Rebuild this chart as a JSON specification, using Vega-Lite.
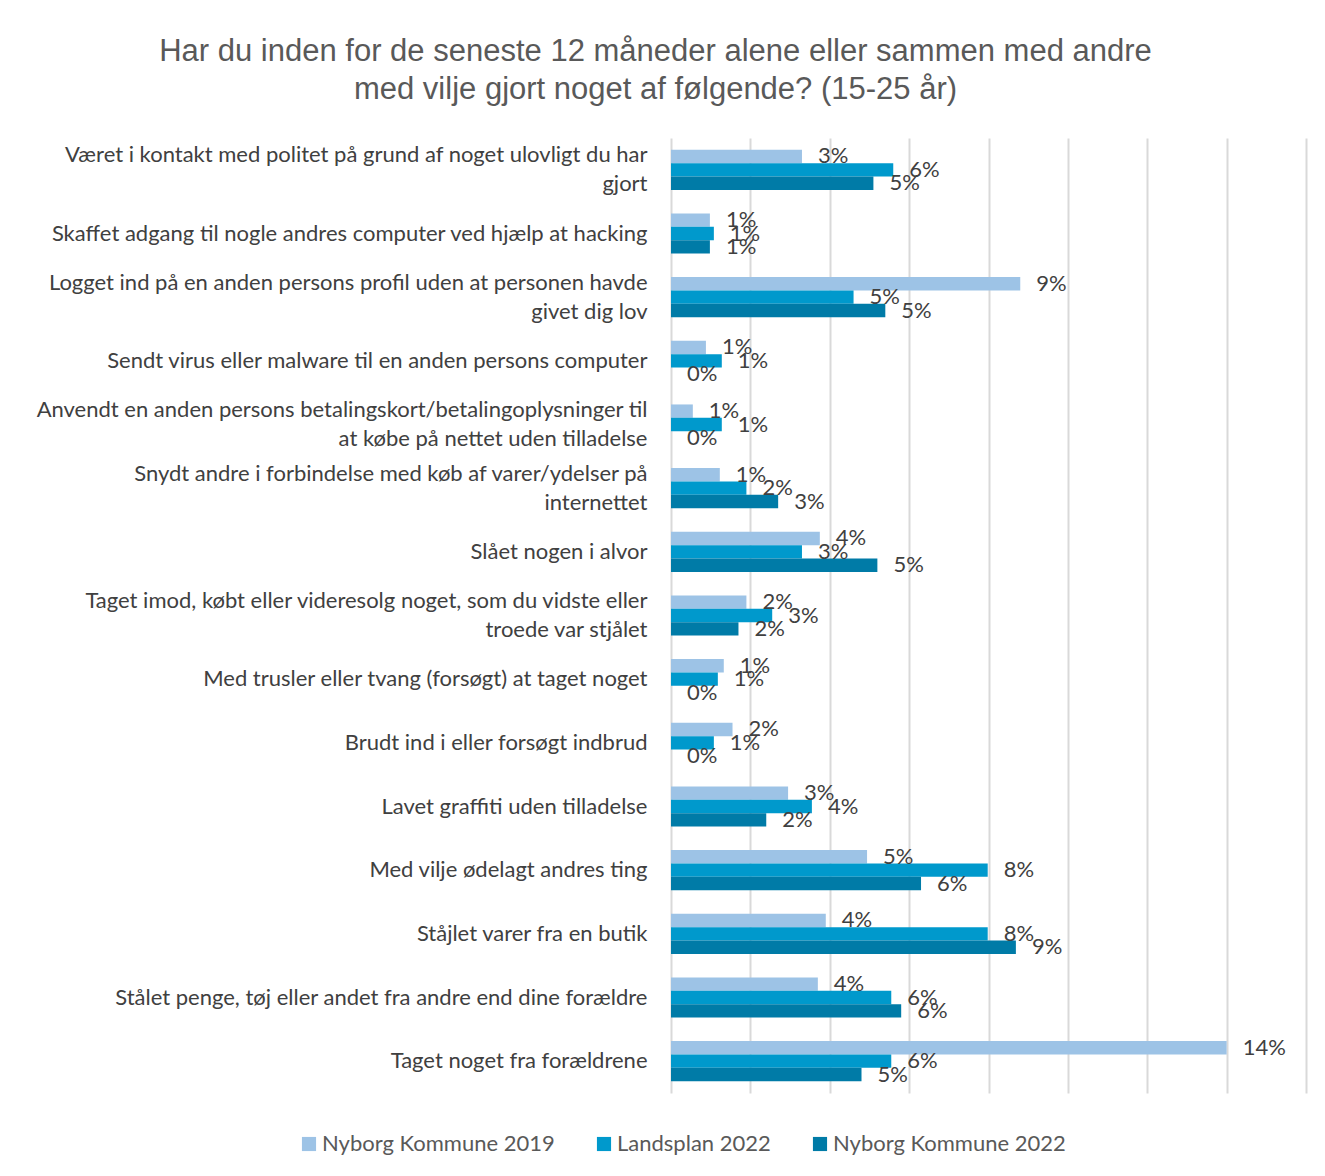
{
  "$schema": "https://vega.github.io/schema/vega-lite/v6.json",
  "width": 635,
  "height": 955,
  "padding": {"left": 5, "top": 36, "right": 19, "bottom": 10},
  "background": "white",
  "title": {
    "text": ["Har du inden for de seneste 12 måneder alene eller sammen med andre", "med vilje gjort noget af følgende? (15-25 år)"],
    "font": "Liberation Sans",
    "fontSize": 31,
    "fontWeight": "normal",
    "color": "#595959",
    "lineHeight": 38,
    "anchor": "middle",
    "frame": "bounds",
    "offset": 32
  },
  "config": {
    "view": {"stroke": null},
    "font": "Lato"
  },
  "data": {
    "values": [
      {"kategori": "Været i kontakt med politet på grund af noget ulovligt du har|gjort", "serie": "Nyborg Kommune 2019", "andel": 0.033},
      {"kategori": "Været i kontakt med politet på grund af noget ulovligt du har|gjort", "serie": "Landsplan 2022", "andel": 0.056},
      {"kategori": "Været i kontakt med politet på grund af noget ulovligt du har|gjort", "serie": "Nyborg Kommune 2022", "andel": 0.051},
      {"kategori": "Skaffet adgang til nogle andres computer ved hjælp at hacking", "serie": "Nyborg Kommune 2019", "andel": 0.0098},
      {"kategori": "Skaffet adgang til nogle andres computer ved hjælp at hacking", "serie": "Landsplan 2022", "andel": 0.0108},
      {"kategori": "Skaffet adgang til nogle andres computer ved hjælp at hacking", "serie": "Nyborg Kommune 2022", "andel": 0.0098},
      {"kategori": "Logget ind på en anden persons profil uden at personen havde|givet dig lov", "serie": "Nyborg Kommune 2019", "andel": 0.088},
      {"kategori": "Logget ind på en anden persons profil uden at personen havde|givet dig lov", "serie": "Landsplan 2022", "andel": 0.046},
      {"kategori": "Logget ind på en anden persons profil uden at personen havde|givet dig lov", "serie": "Nyborg Kommune 2022", "andel": 0.054},
      {"kategori": "Sendt virus eller malware til en anden persons computer", "serie": "Nyborg Kommune 2019", "andel": 0.0088},
      {"kategori": "Sendt virus eller malware til en anden persons computer", "serie": "Landsplan 2022", "andel": 0.0128},
      {"kategori": "Sendt virus eller malware til en anden persons computer", "serie": "Nyborg Kommune 2022", "andel": 0},
      {"kategori": "Anvendt en anden persons betalingskort/betalingoplysninger til|at købe på nettet uden tilladelse", "serie": "Nyborg Kommune 2019", "andel": 0.0055},
      {"kategori": "Anvendt en anden persons betalingskort/betalingoplysninger til|at købe på nettet uden tilladelse", "serie": "Landsplan 2022", "andel": 0.0128},
      {"kategori": "Anvendt en anden persons betalingskort/betalingoplysninger til|at købe på nettet uden tilladelse", "serie": "Nyborg Kommune 2022", "andel": 0},
      {"kategori": "Snydt andre i forbindelse med køb af varer/ydelser på|internettet", "serie": "Nyborg Kommune 2019", "andel": 0.0123},
      {"kategori": "Snydt andre i forbindelse med køb af varer/ydelser på|internettet", "serie": "Landsplan 2022", "andel": 0.019},
      {"kategori": "Snydt andre i forbindelse med køb af varer/ydelser på|internettet", "serie": "Nyborg Kommune 2022", "andel": 0.027},
      {"kategori": "Slået nogen i alvor", "serie": "Nyborg Kommune 2019", "andel": 0.0375},
      {"kategori": "Slået nogen i alvor", "serie": "Landsplan 2022", "andel": 0.033},
      {"kategori": "Slået nogen i alvor", "serie": "Nyborg Kommune 2022", "andel": 0.052},
      {"kategori": "Taget imod, købt eller videresolg noget, som du vidste eller|troede var stjålet", "serie": "Nyborg Kommune 2019", "andel": 0.019},
      {"kategori": "Taget imod, købt eller videresolg noget, som du vidste eller|troede var stjålet", "serie": "Landsplan 2022", "andel": 0.0255},
      {"kategori": "Taget imod, købt eller videresolg noget, som du vidste eller|troede var stjålet", "serie": "Nyborg Kommune 2022", "andel": 0.017},
      {"kategori": "Med trusler eller tvang (forsøgt) at taget noget", "serie": "Nyborg Kommune 2019", "andel": 0.0133},
      {"kategori": "Med trusler eller tvang (forsøgt) at taget noget", "serie": "Landsplan 2022", "andel": 0.0118},
      {"kategori": "Med trusler eller tvang (forsøgt) at taget noget", "serie": "Nyborg Kommune 2022", "andel": 0},
      {"kategori": "Brudt ind i eller forsøgt indbrud", "serie": "Nyborg Kommune 2019", "andel": 0.0155},
      {"kategori": "Brudt ind i eller forsøgt indbrud", "serie": "Landsplan 2022", "andel": 0.0108},
      {"kategori": "Brudt ind i eller forsøgt indbrud", "serie": "Nyborg Kommune 2022", "andel": 0},
      {"kategori": "Lavet graffiti uden tilladelse", "serie": "Nyborg Kommune 2019", "andel": 0.0295},
      {"kategori": "Lavet graffiti uden tilladelse", "serie": "Landsplan 2022", "andel": 0.0355},
      {"kategori": "Lavet graffiti uden tilladelse", "serie": "Nyborg Kommune 2022", "andel": 0.024},
      {"kategori": "Med vilje ødelagt andres ting", "serie": "Nyborg Kommune 2019", "andel": 0.0494},
      {"kategori": "Med vilje ødelagt andres ting", "serie": "Landsplan 2022", "andel": 0.0798},
      {"kategori": "Med vilje ødelagt andres ting", "serie": "Nyborg Kommune 2022", "andel": 0.063},
      {"kategori": "Ståjlet varer fra en butik", "serie": "Nyborg Kommune 2019", "andel": 0.039},
      {"kategori": "Ståjlet varer fra en butik", "serie": "Landsplan 2022", "andel": 0.0798},
      {"kategori": "Ståjlet varer fra en butik", "serie": "Nyborg Kommune 2022", "andel": 0.0869},
      {"kategori": "Stålet penge, tøj eller andet fra andre end dine forældre", "serie": "Nyborg Kommune 2019", "andel": 0.037},
      {"kategori": "Stålet penge, tøj eller andet fra andre end dine forældre", "serie": "Landsplan 2022", "andel": 0.0555},
      {"kategori": "Stålet penge, tøj eller andet fra andre end dine forældre", "serie": "Nyborg Kommune 2022", "andel": 0.058},
      {"kategori": "Taget noget fra forældrene", "serie": "Nyborg Kommune 2019", "andel": 0.14},
      {"kategori": "Taget noget fra forældrene", "serie": "Landsplan 2022", "andel": 0.0555},
      {"kategori": "Taget noget fra forældrene", "serie": "Nyborg Kommune 2022", "andel": 0.048}
    ]
  },
  "encoding": {
    "y": {
      "field": "kategori",
      "type": "nominal",
      "sort": null,
      "title": null,
      "scale": {"paddingInner": 0.37, "paddingOuter": 0.185},
      "axis": {
        "labelExpr": "split(datum.label, '|')",
        "labelFont": "Lato",
        "labelFontSize": 22,
        "labelColor": "#404040",
        "labelLineHeight": 29,
        "labelLimit": 0,
        "labelPadding": 24,
        "labelOffset": {"condition": {"test": "indexof(datum.value, '|') >= 0", "value": -14.5}, "value": 0},
        "ticks": false,
        "domain": false,
        "grid": false,
        "minExtent": 666,
        "maxExtent": 666
      }
    },
    "yOffset": {
      "field": "serie",
      "type": "nominal",
      "sort": ["Nyborg Kommune 2019", "Landsplan 2022", "Nyborg Kommune 2022"],
      "scale": {"paddingInner": 0, "paddingOuter": 0}
    },
    "x": {
      "field": "andel",
      "type": "quantitative",
      "title": null,
      "scale": {"domain": [0, 0.16], "nice": false},
      "axis": {
        "values": [0, 0.02, 0.04, 0.06, 0.08, 0.1, 0.12, 0.14, 0.16],
        "labels": false,
        "ticks": false,
        "domain": false,
        "grid": true,
        "gridColor": "#D9D9D9",
        "gridWidth": 2
      }
    }
  },
  "layer": [
    {
      "mark": {"type": "bar"},
      "encoding": {
        "color": {
          "field": "serie",
          "type": "nominal",
          "sort": ["Nyborg Kommune 2019", "Landsplan 2022", "Nyborg Kommune 2022"],
          "scale": {
            "domain": ["Nyborg Kommune 2019", "Landsplan 2022", "Nyborg Kommune 2022"],
            "range": ["#9DC3E6", "#0099CC", "#007BA7"]
          },
          "legend": {
            "title": null,
            "orient": "none",
            "direction": "horizontal",
            "legendX": -373,
            "legendY": 995,
            "symbolType": "square",
            "symbolSize": 200,
            "symbolStrokeWidth": 0,
            "labelFont": "Lato",
            "labelFontSize": 22,
            "labelColor": "#595959",
            "labelLimit": 0,
            "columnPadding": 38,
            "symbolOffset": 0,
            "labelOffset": 2
          }
        }
      }
    },
    {
      "mark": {"type": "text", "align": "left", "baseline": "middle", "dx": 16, "fontSize": 22, "font": "Lato", "color": "#404040"},
      "encoding": {
        "text": {"field": "andel", "type": "quantitative", "format": ".0%"}
      }
    }
  ]
}
